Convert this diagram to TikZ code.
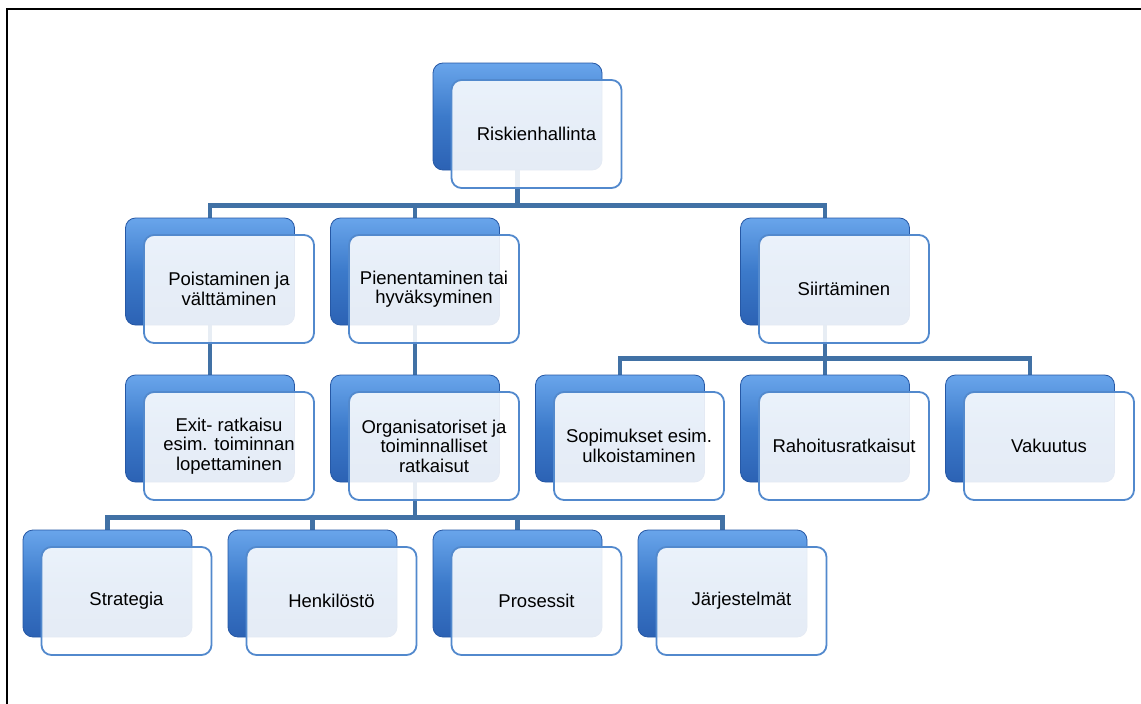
\documentclass[tikz,border=0pt]{standalone}
\usepackage{fontspec}
\setmainfont{Liberation Sans}
\usetikzlibrary{backgrounds}

\definecolor{connblue}{RGB}{65,113,165}
\definecolor{edgeblue}{RGB}{38,88,165}
\definecolor{lineblue}{RGB}{82,137,205}
\definecolor{hiblue}{RGB}{105,165,235}
\definecolor{midblue}{RGB}{60,122,202}
\definecolor{lowblue}{RGB}{44,98,180}

\tikzset{
  backbox/.style={rounded corners=10pt, minimum width=169pt, minimum height=107pt,
    inner sep=0pt, draw=edgeblue, line width=0.8pt,
    top color=hiblue, bottom color=lowblue, middle color=midblue},
  frontbox/.style={rounded corners=10pt, minimum width=170pt, minimum height=108pt,
    inner sep=2pt, draw=lineblue, line width=1.8pt, fill=white, fill opacity=0.88,
    text opacity=1, align=center, font=\fontsize{18.5}{19.5}\selectfont},
  conn/.style={draw=connblue, line width=4.5pt}
}

\begin{document}
\begin{tikzpicture}[x=1pt,y=-1pt]
\useasboundingbox (0,0) rectangle (1141,704);

% frame
\draw[line width=2.5pt] (7,704) -- (7,9) -- (1141,9);

% boxes: back shape and front shape with text
\foreach \n/\x/\y/\t in {
    risk/517.5/116.5/Riskienhallinta,
    poist/210/271.5/{Poistaminen ja\\välttäminen},
    pien/415/271.5/{Pienentaminen tai\\hyväksyminen},
    siirt/825/271.5/Siirtäminen,
    exit/210/428.5/{Exit- ratkaisu\\esim. toiminnan\\lopettaminen},
    org/415/428.5/{Organisatoriset ja\\toiminnalliset\\ratkaisut},
    sopim/620/428.5/{Sopimukset esim.\\ulkoistaminen},
    rahoit/825/428.5/Rahoitusratkaisut,
    vakuu/1030/428.5/Vakuutus,
    strat/107.5/583.5/Strategia,
    henk/312.5/583.5/Henkilöstö,
    prosess/517.5/583.5/Prosessit,
    jarj/722.5/583.5/Järjestelmät} {
    \node[backbox] (\n-b) at (\x,\y) {};
    \node[frontbox] (\n) at (\x+19,\y+17.5) {\t};
}

% connectors
\begin{scope}[on background layer]
\foreach \c in {poist,pien,siirt}
    \draw[conn] (risk-b.south) -- ++(0,35) -| (\c-b.north);
\draw[conn] (poist-b.south) -- (exit-b.north);
\draw[conn] (pien-b.south) -- (org-b.north);
\foreach \c in {sopim,rahoit,vakuu}
    \draw[conn] (siirt-b.south) -- ++(0,33) -| (\c-b.north);
\foreach \c in {strat,henk,prosess,jarj}
    \draw[conn] (org-b.south) -- ++(0,35) -| (\c-b.north);
\end{scope}
\end{tikzpicture}
\end{document}
